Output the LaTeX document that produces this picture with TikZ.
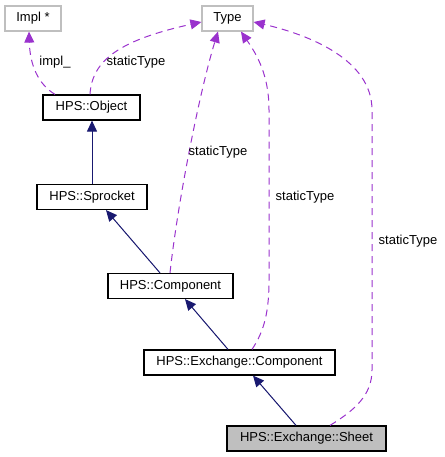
\documentclass[tikz,border=0pt]{standalone}
\usepackage{fontspec}
\setmainfont{Liberation Sans}
\usetikzlibrary{arrows.meta}
\definecolor{navyedge}{HTML}{191970}
\definecolor{purpleedge}{HTML}{9A32CD}
\definecolor{graybox}{HTML}{BFBFBF}
\tikzset{
  box/.style={draw=black, line width=1.2pt, rectangle, inner sep=0pt, minimum height=25pt, font=\fontsize{13}{15}\selectfont},
  extbox/.style={box, draw=graybox},
  curbox/.style={box, fill=graybox},
  inherit/.style={draw=navyedge, line width=1pt, -{Triangle[length=11pt,width=10pt]}, fill=navyedge},
  usage/.style={draw=purpleedge, line width=1pt, dash pattern=on 7pt off 5pt, -{Triangle[length=11pt,width=10pt,fill=purpleedge]}},
  lbl/.style={font=\fontsize{13}{15}\selectfont, inner sep=0pt}
}
\begin{document}
\begin{tikzpicture}[x=1pt,y=-1pt]
\useasboundingbox (0,0) rectangle (444,457);
\node[extbox, minimum width=56pt] (impl) at (33,18.5) {Impl *};
\node[extbox, minimum width=51pt] (type) at (227.5,18.5) {Type};
\node[box, minimum width=97pt] (obj) at (91.5,107.5) {HPS::Object};
\node[box, minimum width=110pt] (spr) at (92,197) {HPS::Sprocket};
\node[box, minimum width=125pt] (comp) at (170.5,286) {HPS::Component};
\node[box, minimum width=191pt] (exc) at (239.5,362.5) {HPS::Exchange::Component};
\node[curbox, minimum width=159pt] (sheet) at (306.5,438.5) {HPS::Exchange::Sheet};

% inheritance
\draw[inherit] (spr.north) -- (spr.north |- obj.south);
\draw[inherit] ([xshift=-10.5pt]comp.north) -- ([xshift=14pt]spr.south);
\draw[inherit] ([xshift=-11.5pt]exc.north) -- ([xshift=14.5pt]comp.south);
\draw[inherit] ([xshift=-10.5pt]sheet.north) -- ([xshift=13.5pt]exc.south);

% usage
\draw[usage] ([xshift=-36.5pt]obj.north) .. controls (38,84) and (30,65) .. ([xshift=-4pt]impl.south);
\draw[usage] ([xshift=-1.5pt]obj.north) .. controls (92,60) and (120,40) .. ([yshift=-3.5pt]type.west);
\draw[usage] ([xshift=-0.5pt]comp.north) .. controls (178,200) and (200,90) .. ([xshift=-9.5pt]type.south);
\draw[usage] ([xshift=12.5pt]exc.north) .. controls (265,330) and (269,310) .. (269,280) -- (269,110) .. controls (269,75) and (257,55) .. ([xshift=13.5pt]type.south);
\draw[usage] ([xshift=23.5pt]sheet.north) .. controls (355,410) and (372,395) .. (372,370) -- (372,110) .. controls (372,60) and (310,35) .. ([yshift=-3.5pt]type.east);

\node[lbl] (l1) at (55,62) {impl\_};
\node[lbl] (l2) at (136,62) {staticType};
\node[lbl] (l3) at (218,152) {staticType};
\node[lbl] (l4) at (305,197) {staticType};
\node[lbl] (l5) at (408,241) {staticType};
\end{tikzpicture}
\end{document}
